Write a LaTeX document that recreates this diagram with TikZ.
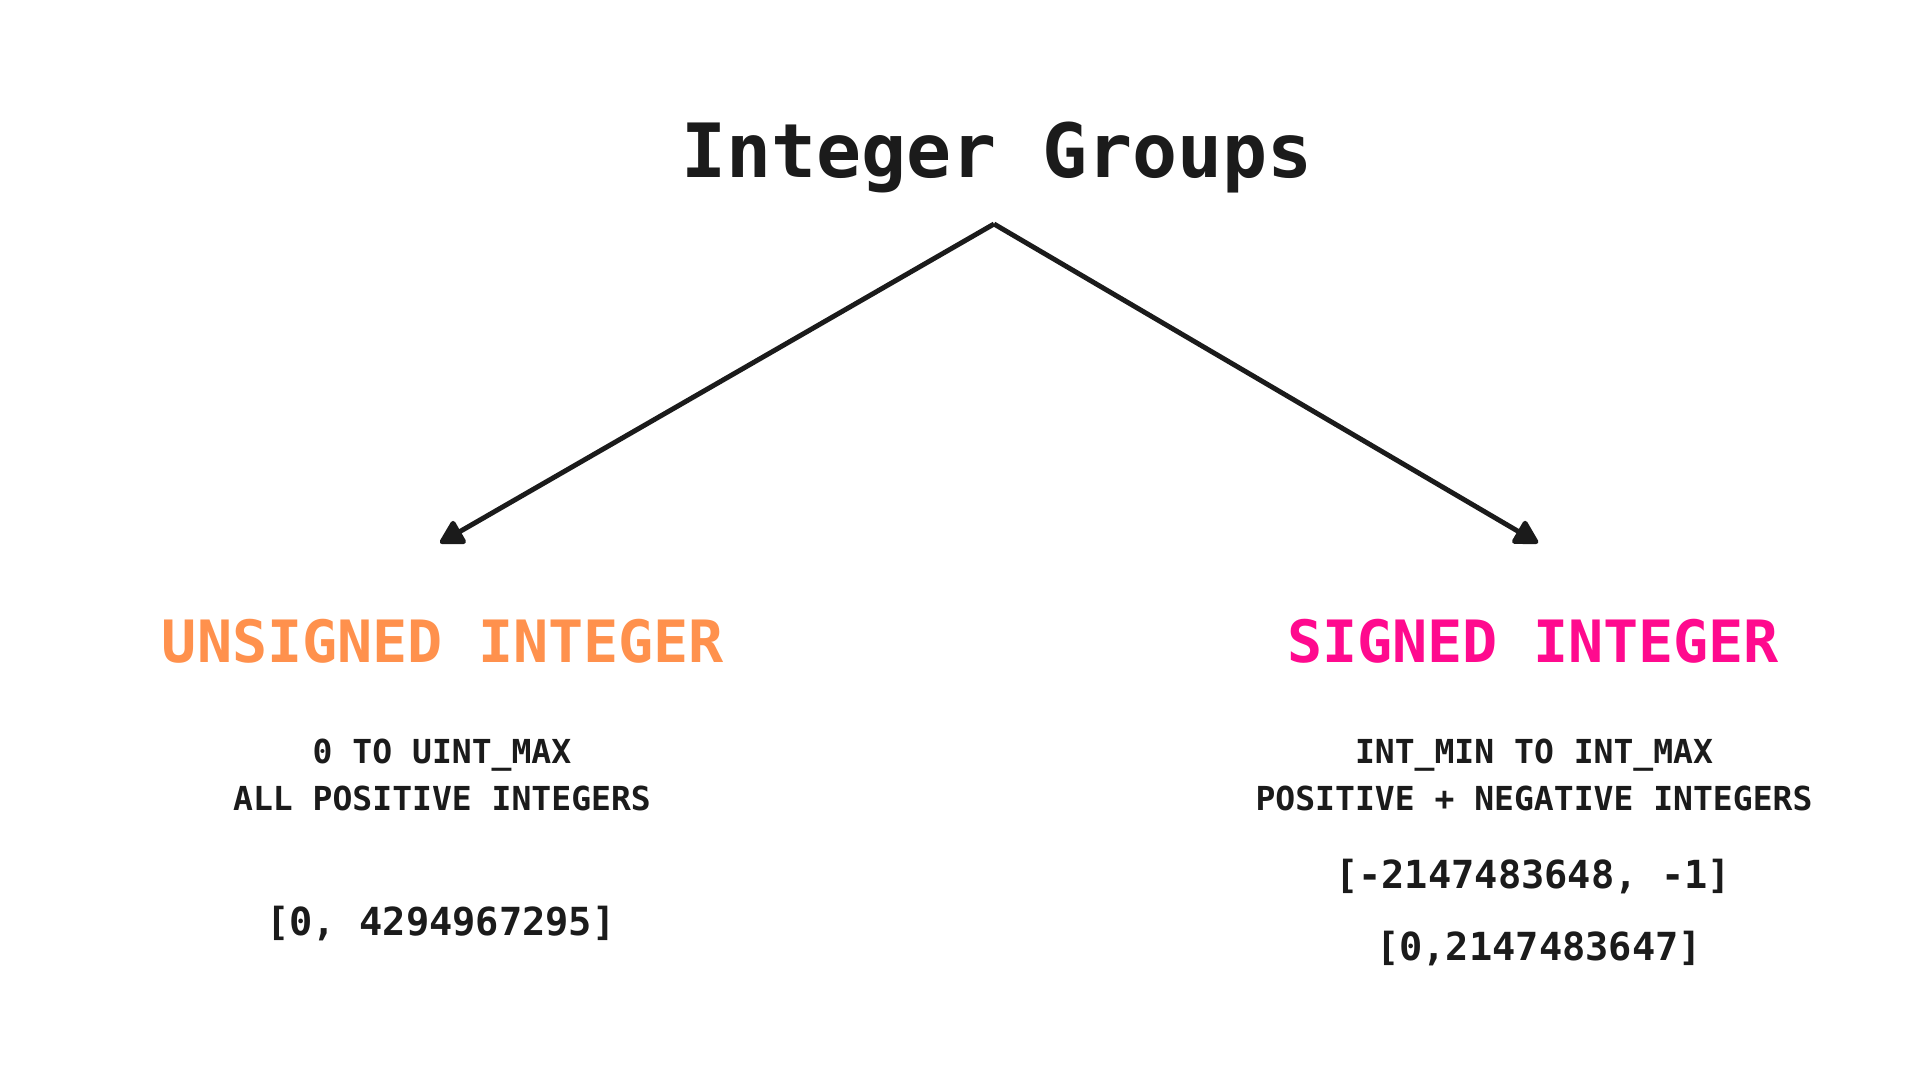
\documentclass[tikz,border=0pt]{standalone}
\usepackage{fontspec}
\setmainfont{DejaVu Sans Mono}
\usetikzlibrary{arrows.meta}
\usetikzlibrary{calc}
\definecolor{ink}{HTML}{1B1B1B}
\definecolor{unsignedorange}{HTML}{FF914D}
\definecolor{signedpink}{HTML}{FF0A8E}
\tikzstyle{line} = [draw, ink, line width=1.4pt, line join=round, -{Triangle[length=7.5pt,width=8pt,round]}]
\tikzstyle{head} = [anchor=base, inner sep=0pt, font=\bfseries\fontsize{16.6}{20}\selectfont]
\tikzstyle{info} = [anchor=base, inner sep=0pt, text=ink, font=\bfseries\fontsize{9.4}{12}\selectfont]
\tikzstyle{rangetext} = [anchor=base, inner sep=0pt, text=ink, font=\bfseries\fontsize{11}{13}\selectfont]

\begin{document}
\begin{tikzpicture}
 \useasboundingbox [fill=white] (0,0) rectangle (19.2,-10.8);
 \node [anchor=base, inner sep=0pt, text=ink, font=\bfseries\fontsize{21.3}{25}\selectfont] (title) at (9.97,-1.78) {Integer Groups};
 \coordinate (apex) at ($(title.base) + (-0.03,-0.46)$);
 % left branch
 \node [head, text=unsignedorange] (UI) at (4.43,-6.62) {UNSIGNED INTEGER};
 \coordinate (lefttip) at ($(UI.base) + (-0.03,1.19)$);
 \node [info] (UR) at (4.42,-7.63) {0 TO UINT\_MAX};
 \node [info] (UK) at (4.42,-8.10) {ALL POSITIVE INTEGERS};
 \node [rangetext] (UV) at (4.41,-9.35) {[0, 4294967295]};
 % right branch
 \node [head, text=signedpink] (SI) at (15.33,-6.62) {SIGNED INTEGER};
 \coordinate (righttip) at ($(SI.base) + (0.05,1.19)$);
 \node [info] (SR) at (15.34,-7.63) {INT\_MIN TO INT\_MAX};
 \node [info] (SK) at (15.34,-8.10) {POSITIVE + NEGATIVE INTEGERS};
 \node [rangetext] (SN) at (15.33,-8.88) {[-2147483648, -1]};
 \node [rangetext] (SP) at (15.39,-9.60) {[0,2147483647]};
 \path [line] (apex) -- (lefttip);
 \path [line] (apex) -- (righttip);
\end{tikzpicture}
\end{document}
